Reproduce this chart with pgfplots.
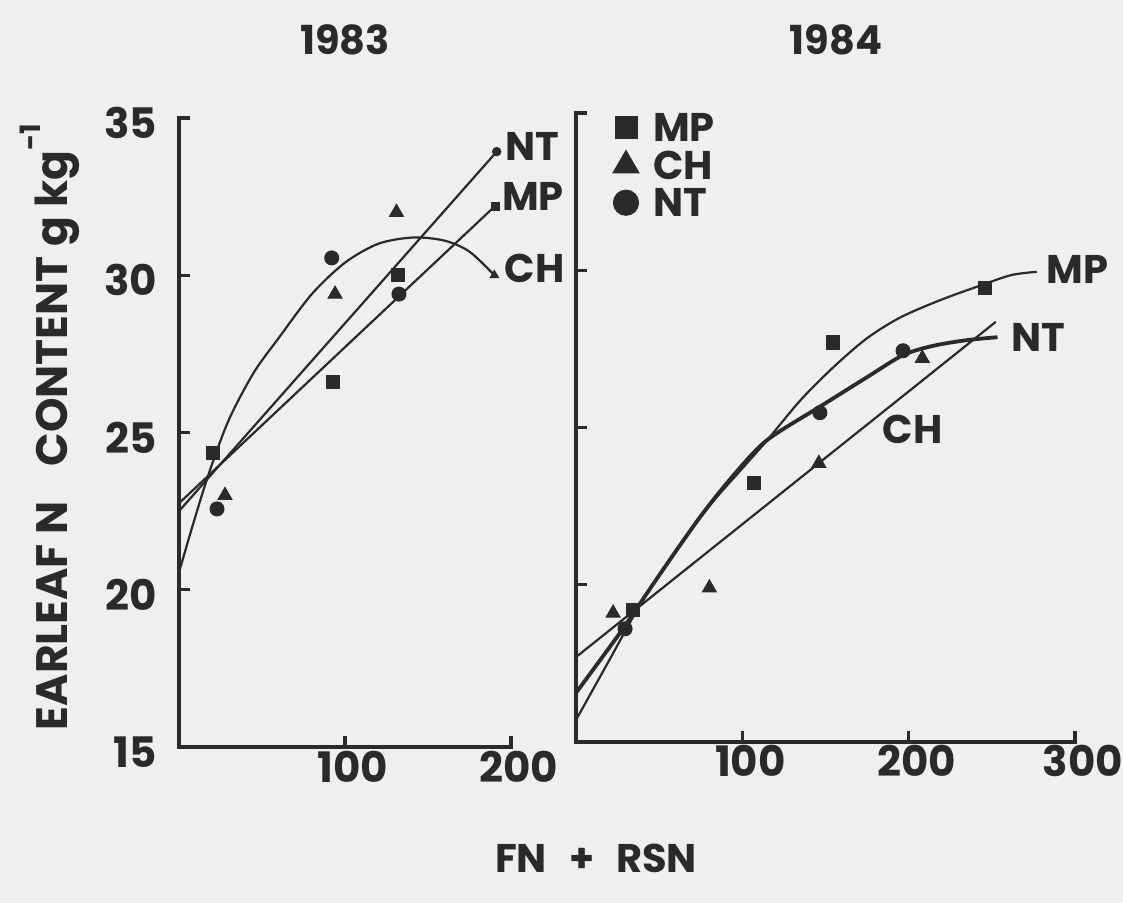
\documentclass[border=0pt]{standalone}
\usepackage{pgfplots}
\pgfplotsset{compat=1.18}
\usepackage{fontspec}
\setmainfont{Poppins}
\definecolor{ink}{RGB}{42,42,42}
\definecolor{paper}{RGB}{239,239,239}
\newcommand\tickfont{\fontsize{21}{24}\selectfont\bfseries}
\newcommand\labfont{\fontsize{20}{24}\selectfont\bfseries}

\tikzset{
  curvelabel/.style={anchor=west, font=\labfont, text=ink, inner sep=0pt},
  frame/.style={draw=ink, line width=2pt, line cap=rect},
  tk/.style={draw=ink, line width=1.6pt},
}
\pgfplotsset{
  panel/.style={
    scale only axis,
    axis x line*=bottom,
    axis y line*=left,
    axis line style={line width=2pt, draw=ink},
    ymin=15, ymax=35,
    tick align=inside,
    major tick length=5.5pt,
    major tick style={line width=1.5pt, draw=ink},
    /pgf/number format/assume math mode=true,
    ticklabel style={font=\tickfont, text=ink},
    clip=false,
  },
  fit/.style={ink, line width=1.1pt, no markers},
  fitthick/.style={ink, line width=1.9pt, no markers},
  msq/.style={only marks, mark=square*, mark size=3.3pt, ink, mark options={line width=0.5pt}},
  mtri/.style={only marks, mark=triangle*, mark size=4pt, ink, mark options={line width=0.5pt}},
  mcirc/.style={only marks, mark=*, mark size=3.5pt, ink, mark options={line width=0.5pt}},
}

\begin{document}
\begin{tikzpicture}
\fill[paper] (0,0) rectangle (561.5pt,451.5pt);
\useasboundingbox (0,0) rectangle (561.5pt,451.5pt);

% ---------------- 1983 ----------------
\begin{axis}[panel,
  at={(89.5pt,78pt)}, anchor=south west,
  width=166pt, height=314.5pt,
  xmin=0, xmax=200, xtick={100,200},
  ytick={15,20,25,30,35},
  yticklabel style={xshift=-7.5pt, yshift=-2.5pt},
  xticklabel style={xshift=4pt, yshift=1.5pt},
]
% heavy frame and ticks
\draw[frame] (axis cs:0,35) -- (axis cs:0,15) -- (axis cs:200,15);
\draw[tk] (axis cs:0,20) -- (axis cs:6.6,20);
\draw[tk] (axis cs:0,25) -- (axis cs:6.6,25);
\draw[tk] (axis cs:0,30) -- (axis cs:6.6,30);
\draw[tk] (axis cs:0,35) -- (axis cs:6.6,35);
\draw[tk] (axis cs:100,15) -- (axis cs:100,15.35);
\draw[tk] (axis cs:200,15) -- (axis cs:200,15.35);
% fitted responses
\addplot[fit] coordinates {(0,22.5) (191.4,33.93)};
\addplot[fit] coordinates {(0,22.75) (190.4,32.2)};
\addplot[fit, smooth] coordinates {
  (0,20.55) (8,22.0) (18,23.7) (30,25.4) (45,26.9) (60,28.0) (80,29.4)
  (100,30.4) (120,31.0) (141,31.2) (160,31.1) (175,30.75) (190,30.0)};
% observations
\addplot[msq] coordinates {(20.5,24.35) (92.8,26.6) (132,30.0)};
\addplot[mtri] coordinates {(27.7,23.0) (94,29.4) (131,32.0)};
\addplot[mcirc] coordinates {(22.9,22.57) (92,30.55) (132.5,29.4)};
% line ends
\addplot[only marks, mark=*, mark size=2.1pt, ink, mark options={line width=0.5pt}] coordinates {(191.4,33.93)};
\addplot[only marks, mark=square*, mark size=2pt, ink, mark options={line width=0.5pt}] coordinates {(190.4,32.2)};
\addplot[only marks, mark=triangle*, mark size=2.4pt, ink, mark options={line width=0.5pt}] coordinates {(190,30.0)};
\node[curvelabel] at (axis cs:196.5,34.08) {NT};
\node[curvelabel] at (axis cs:194.5,32.5) {MP};
\node[curvelabel] at (axis cs:196,30.22) {CH};
\end{axis}

% ---------------- 1984 ----------------
\begin{axis}[panel,
  at={(288pt,80.5pt)}, anchor=south west,
  width=249.5pt, height=314.5pt,
  xmin=0, xmax=300, xtick={100,200,300},
  ytick={20,25,30,35}, yticklabels={},
  xticklabel style={xshift=4pt, yshift=2pt},
  legend style={at={(axis cs:22,35)}, anchor=north west, draw=none, fill=none,
    inner sep=0pt, font=\labfont, text=ink, row sep=4.5pt,
    nodes={inner sep=0pt, text depth=0pt},
    /tikz/every odd column/.append style={column sep=7pt}},
  legend cell align=left,
  legend image code/.code={\draw[#1, line width=0.5pt] plot coordinates {(0pt,0pt)};
    \path[draw=none, fill=none] (-6.5pt,-7pt) rectangle (6.5pt,7pt);},
]
% heavy frame and ticks
\draw[frame, line width=1.7pt] (axis cs:0,35) -- (axis cs:0,15) -- (axis cs:300,15);
\draw[tk] (axis cs:0,20) -- (axis cs:6.6,20);
\draw[tk] (axis cs:0,25) -- (axis cs:6.6,25);
\draw[tk] (axis cs:0,30) -- (axis cs:6.6,30);
\draw[tk] (axis cs:0,35) -- (axis cs:6.6,35);
\draw[tk] (axis cs:100,15) -- (axis cs:100,15.35);
\draw[tk] (axis cs:200,15) -- (axis cs:200,15.35);
\draw[tk] (axis cs:300,15) -- (axis cs:300,15.35);
\addlegendimage{only marks, mark=square*, mark size=5.5pt, ink}
\addlegendentry{MP}
\addlegendimage{only marks, mark=triangle*, mark size=7.5pt, ink}
\addlegendentry{CH}
\addlegendimage{only marks, mark=*, mark size=6.3pt, ink}
\addlegendentry{NT}
% fitted responses
\addplot[fit, smooth, forget plot] coordinates {
  (0,15.7) (20,17.6) (40,19.5) (60,21.1) (80,22.5) (100,23.7) (115,24.6)
  (135,25.87) (155,26.93) (175,27.84) (195,28.5) (219,29.05) (245,29.55)
  (262,29.85) (277,29.95)};
\addplot[fitthick, smooth, forget plot] coordinates {
  (0,16.56) (20,18.0) (29.5,18.7) (50,20.3) (74.7,22.16) (95,23.5)
  (114.9,24.6) (146.6,25.66) (175,26.6) (196.6,27.3) (215,27.6)
  (235.4,27.78) (253.4,27.87)};
\addplot[fit, forget plot] coordinates {(0,17.7) (252.4,28.36)};
% observations
\addplot[msq, forget plot] coordinates {(34.3,19.2) (107.2,23.23) (154.6,27.7) (245.8,29.44)};
\addplot[mtri, forget plot] coordinates {(22.3,19.1) (80.2,19.9) (146,23.86) (208.2,27.2)};
\addplot[mcirc, forget plot] coordinates {(29.5,18.6) (146.6,25.47) (196.6,27.44)};
\node[curvelabel] at (axis cs:282.9,30.04) {MP};
\node[curvelabel] at (axis cs:261.4,27.85) {NT};
\node[curvelabel] at (axis cs:184.2,24.95) {CH};
\end{axis}

% titles and axis names
\node[font=\labfont, text=ink] at (172.5pt,431.5pt) {1983};
\node[font=\labfont, text=ink] at (418pt,431.5pt) {1984};
\node[font=\labfont, text=ink] at (298pt,22.5pt) {FN\hspace{0.55em}+\hspace{0.55em}RSN};
\node[font={\fontsize{22}{24}\selectfont\bfseries}, text=ink, rotate=90] at (25pt,238pt)
  {EARLEAF N\hspace{0.8em}CONTENT g kg\raisebox{0.62em}{\fontsize{14}{15}\selectfont -1}};
\end{tikzpicture}
\end{document}
